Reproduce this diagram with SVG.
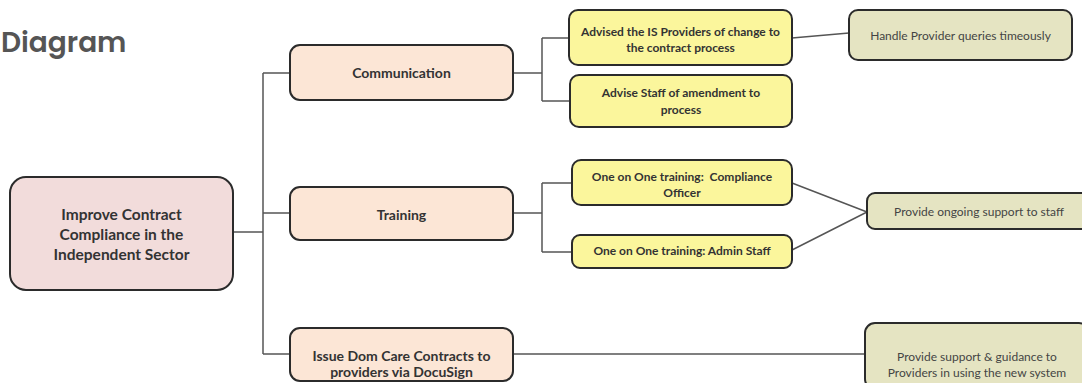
<svg xmlns="http://www.w3.org/2000/svg" width="1082" height="383" viewBox="0 0 1082 383">
  <style>
    .box { stroke: #2b2b2b; stroke-width: 2; }
    .root { fill: #f2dcdb; }
    .lvl1 { fill: #fce6d6; }
    .act { fill: #fbf69c; }
    .out { fill: #e5e4c2; }
    .t { font-family: Lato, "Open Sans", sans-serif; fill: #333; text-anchor: middle; white-space: pre; }
    .b { font-weight: bold; }
    .tr { font-size: 15.5px; }
    .t1 { font-size: 14px; }
    .ta { font-size: 12px; }
    .to { font-size: 12px; fill: #444; }
    .conn { fill: none; stroke: #555; stroke-width: 1.5; }
    .title { font-family: Poppins, Inter, "Open Sans", sans-serif; font-weight: 600; font-size: 28px; fill: #555; }
  </style>
  <rect width="1082" height="383" fill="#ffffff"/>

  <text class="title" x="1" y="52">Diagram</text>

  <g id="connectors">
    <path class="conn" d="M233,232 H263"/>
    <path class="conn" d="M263,73 V354"/>
    <path class="conn" d="M263,73 H290"/>
    <path class="conn" d="M263,213 H290"/>
    <path class="conn" d="M263,354 H290"/>
    <path class="conn" d="M513,73 H542 M542,38 V101 M542,38 H569 M542,101 H570"/>
    <path class="conn" d="M513,213 H542 M542,183 V252 M542,183 H572 M542,252 H572"/>
    <path class="conn" d="M792,38 L849,33"/>
    <path class="conn" d="M792,183 L867,212 M792,250 L867,212"/>
    <path class="conn" d="M513,354 H865"/>
  </g>

  <g id="root">
    <rect class="box root" x="10" y="177" width="223" height="113" rx="16"/>
    <text class="t b tr" x="121.5" y="220">Improve Contract</text>
    <text class="t b tr" x="121.5" y="240">Compliance in the</text>
    <text class="t b tr" x="121.5" y="260">Independent Sector</text>
  </g>

  <g id="communication">
    <rect class="box lvl1" x="290" y="45" width="223" height="55" rx="10"/>
    <text class="t b t1" x="401.5" y="78">Communication</text>
  </g>

  <g id="training">
    <rect class="box lvl1" x="290" y="187" width="223" height="53" rx="10"/>
    <text class="t b t1" x="401.5" y="220">Training</text>
  </g>

  <g id="docusign">
    <rect class="box lvl1" x="290" y="328" width="223" height="53" rx="10"/>
    <text class="t b t1" x="401.5" y="361">Issue Dom Care Contracts to</text>
    <text class="t b t1" x="401.5" y="377">providers via DocuSign</text>
  </g>

  <g id="advise-providers">
    <rect class="box act" x="569" y="10" width="223" height="55" rx="9"/>
    <text class="t b ta" x="680.5" y="36">Advised the IS Providers of change to</text>
    <text class="t b ta" x="680.5" y="52">the contract process</text>
  </g>

  <g id="advise-staff">
    <rect class="box act" x="570" y="75" width="222" height="52" rx="9"/>
    <text class="t b ta" x="681" y="97">Advise Staff of amendment to</text>
    <text class="t b ta" x="681" y="114">process</text>
  </g>

  <g id="training-officer">
    <rect class="box act" x="572" y="160" width="220" height="45" rx="9"/>
    <text class="t b ta" x="682" y="181" xml:space="preserve">One on One training:  Compliance</text>
    <text class="t b ta" x="682" y="197">Officer</text>
  </g>

  <g id="training-admin">
    <rect class="box act" x="572" y="235" width="220" height="33" rx="8"/>
    <text class="t b ta" x="682" y="255">One on One training: Admin Staff</text>
  </g>

  <g id="provider-queries">
    <rect class="box out" x="849" y="10" width="223" height="50" rx="9"/>
    <text class="t to" x="960.5" y="40">Handle Provider queries timeously</text>
  </g>

  <g id="ongoing-support">
    <rect class="box out" x="867" y="193" width="224" height="36" rx="8"/>
    <text class="t to" x="979" y="216">Provide ongoing support to staff</text>
  </g>

  <g id="system-guidance">
    <rect class="box out" x="865" y="323" width="224" height="66" rx="10"/>
    <text class="t to" x="977" y="361">Provide support &amp; guidance to</text>
    <text class="t to" x="977" y="377">Providers in using the new system</text>
  </g>
</svg>
